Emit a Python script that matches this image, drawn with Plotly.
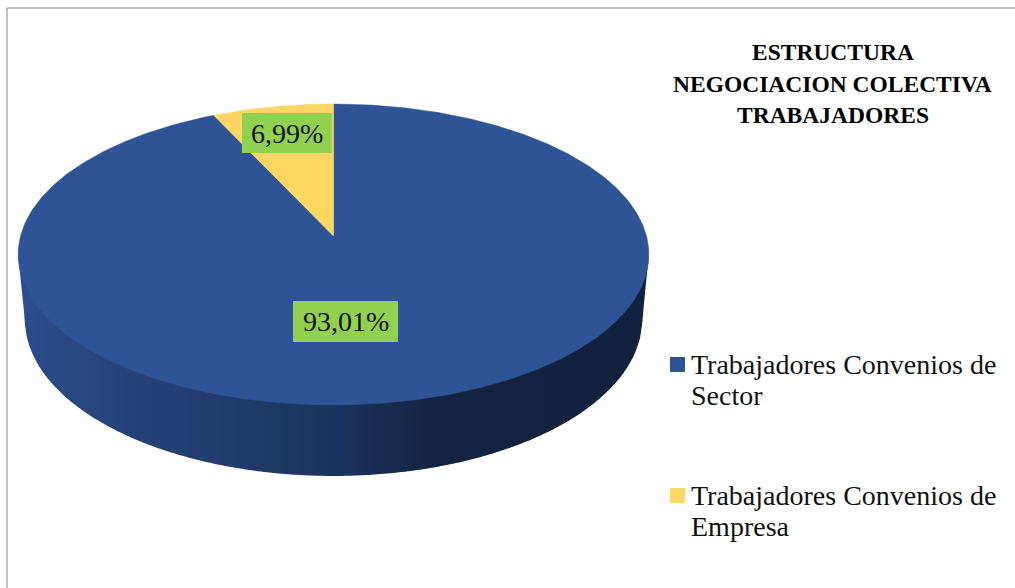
import numpy as np
import plotly.graph_objects as go

categories = ["Trabajadores Convenios de<br>Sector", "Trabajadores Convenios de<br>Empresa"]
values = [93.01, 6.99]
value_labels = ["93,01%", "6,99%"]
slice_colors = ["#2E5495", "#FDD663"]
label_bg = "#92D050"
title_lines = ["ESTRUCTURA", "NEGOCIACION COLECTIVA", "TRABAJADORES"]

FONT = "Liberation Serif"
W, H = 1015, 588
CX, CY = 333.5, 236.0
A, B, K = 313.0, 148.2, 0.1229
TOP_MID_Y = 254.5
BOT_SX, BOT_SY, BOT_MID_Y = 0.979, 1.043, 319.0


def top(theta):
    u, v = np.sin(theta), np.cos(theta)
    d = 1 + K * v
    return CX + A * u / d, CY - B * v / d


def bottom(theta):
    x, y = top(theta)
    return CX + (x - CX) * BOT_SX, BOT_MID_Y + (y - TOP_MID_Y) * BOT_SY


stops_x = [18, 130, 333, 440, 649]
stops_c = [(44, 77, 139), (37, 67, 121), (27, 51, 95), (19, 35, 63), (18, 34, 62)]


def side_color(x):
    c = [np.interp(x, stops_x, [s[i] for s in stops_c]) for i in range(3)]
    return "rgb(%d,%d,%d)" % tuple(int(round(v)) for v in c)


fig = go.Figure()

# side wall: vertical pixel-aligned strips between the front rim and the lower rim
th0 = np.arccos(-K)
front = np.linspace(th0, 2 * np.pi - th0, 1500)
tx, ty = top(front)
bx, by = bottom(front)
o1, o2 = np.argsort(tx), np.argsort(bx)
env_x = np.concatenate([[tx.min()], bx[o2], [tx.max()]])
env_y = np.concatenate([[ty[np.argmin(tx)]], by[o2], [ty[np.argmax(tx)]]])
columns = np.arange(int(np.floor(tx.min())), int(np.ceil(tx.max())) + 3, 3)
for x0, x1 in zip(columns[:-1], columns[1:]):
    xs = np.linspace(max(x0, tx.min()), min(x1, tx.max()), 4)
    upper = np.interp(xs, tx[o1], ty[o1]) - 4
    lower = np.interp(xs, env_x, env_y)
    col = side_color((x0 + x1) / 2)
    fig.add_trace(go.Scatter(x=[*xs, *xs[::-1], xs[0]], y=[*upper, *lower[::-1], upper[0]],
                             mode="lines", fill="toself", fillcolor=col,
                             line=dict(width=0), hoverinfo="skip", showlegend=False))

# top face
fractions = np.cumsum([0] + values) / sum(values) * 2 * np.pi
for i, (name, col) in enumerate(zip(categories, slice_colors)):
    ts = np.linspace(fractions[i], fractions[i + 1], max(8, int(values[i] * 6)))
    x, y = top(ts)
    fig.add_trace(go.Scatter(x=[CX, *x, CX], y=[CY, *y, CY], mode="lines", fill="toself",
                             fillcolor=col, line=dict(color=col, width=0.5),
                             name=name.replace("<br>", " "), hoverinfo="name", showlegend=False))

# data labels
label_boxes = [(293, 398, 301, 342), (242, 332, 113, 153)]
for txt, (x0, x1, y0, y1) in zip(value_labels, label_boxes):
    fig.add_shape(type="rect", x0=x0, x1=x1, y0=y0, y1=y1, fillcolor=label_bg, line_width=0, layer="above")
    fig.add_annotation(x=(x0 + x1) / 2, y=(y0 + y1) / 2, text=txt, showarrow=False,
                       font=dict(family=FONT, size=28, color="#111111"))

# legend
legend_y = [364.5, 495.5]
for name, col, y in zip(categories, slice_colors, legend_y):
    fig.add_trace(go.Scatter(x=[677.5], y=[y], mode="markers", hoverinfo="skip", showlegend=False,
                             marker=dict(symbol="square", size=15, color=col, line_width=0)))
    for j, part in enumerate(name.split("<br>")):
        fig.add_annotation(x=689, y=y + j * 31, text=part, showarrow=False, xanchor="left", align="left",
                           font=dict(family=FONT, size=28, color="#111111"))

# title
for line, y in zip(title_lines, [52, 84, 115]):
    fig.add_annotation(x=832.5, y=y, text="<b>%s</b>" % line, showarrow=False,
                       font=dict(family=FONT, size=23.5, color="#000000"))

# chart frame
fig.add_shape(type="rect", x0=7, x1=W + 20, y0=8, y1=H + 20, line=dict(color="#868686", width=1), layer="below")

fig.update_layout(
    width=W, height=H, margin=dict(l=0, r=0, t=0, b=0),
    paper_bgcolor="white", plot_bgcolor="white", showlegend=False,
    xaxis=dict(range=[0, W], visible=False, fixedrange=True),
    yaxis=dict(range=[H, 0], visible=False, fixedrange=True),
)
fig.write_html("out.html", config={"displayModeBar": False},
               post_script="document.body.style.margin='0';document.body.style.overflow='hidden';")
